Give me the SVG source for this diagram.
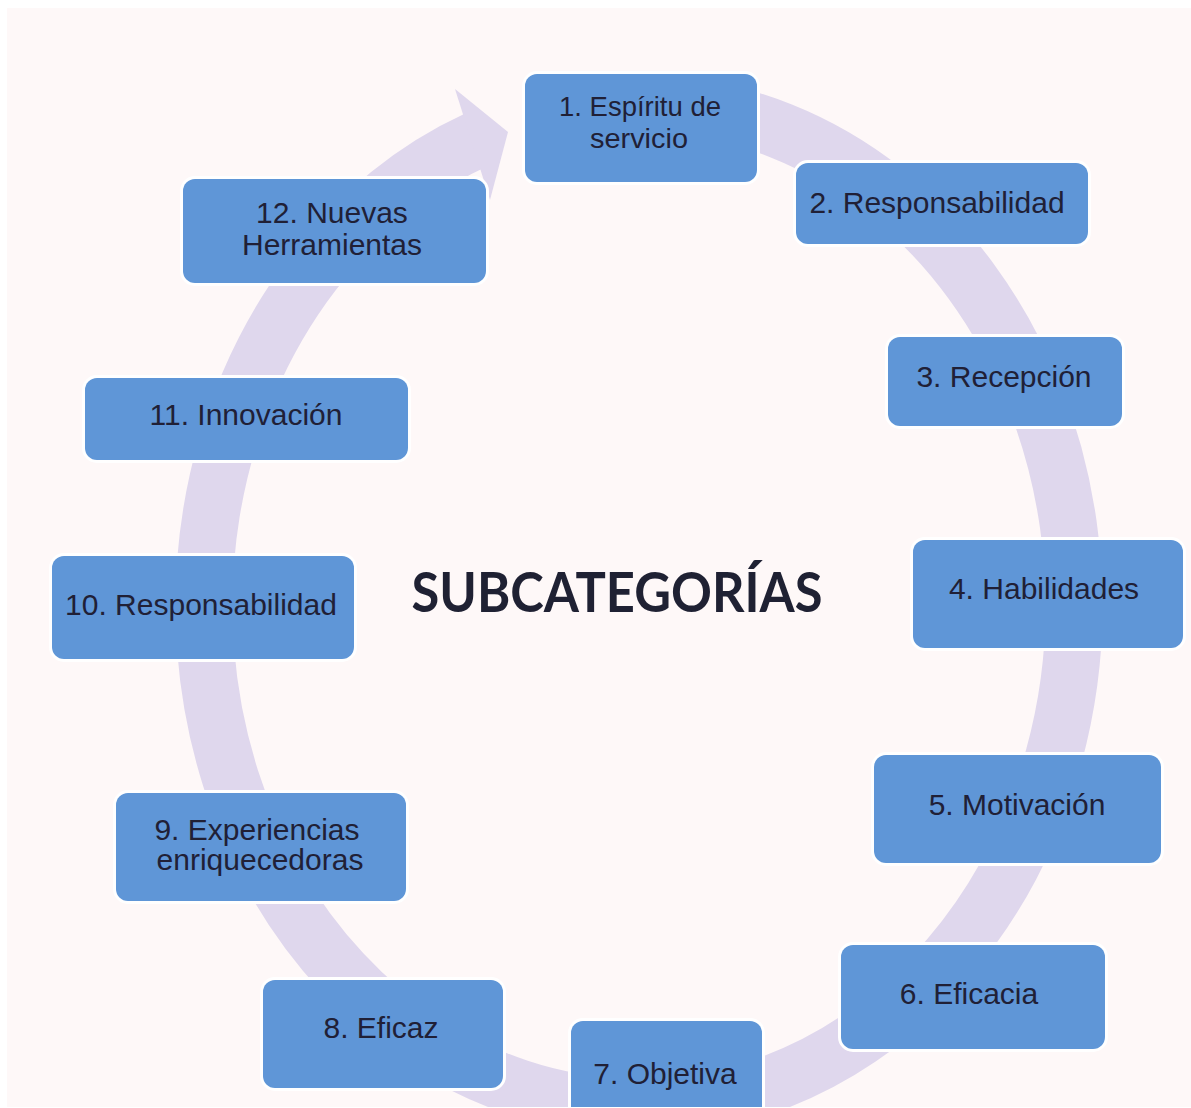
<svg xmlns="http://www.w3.org/2000/svg" width="1191" height="1108" viewBox="0 0 1191 1108">
  <defs>
    <style>
      .box { fill: #5f96d7; stroke: #ffffff; stroke-width: 6; paint-order: stroke; }
      .lbl { font-family: "Liberation Sans", Arial, sans-serif; font-size: 30px; fill: #202036; text-anchor: middle; }
      .lbl.tight { font-size: 28px; }
      .title { font-family: Lato, "Open Sans", sans-serif; font-weight: 700; font-size: 55px; fill: #1f2133; text-anchor: middle; }
      .ring { fill: none; stroke: #dfd7ed; stroke-width: 57; }
    </style>
    <clipPath id="frame">
      <rect x="7" y="8" width="1184" height="1099"/>
    </clipPath>
  </defs>
  <rect x="0" y="0" width="1191" height="1108" fill="#ffffff"/>
  <rect x="7" y="8" width="1184" height="1099" fill="#fef8f8"/>
  <g clip-path="url(#frame)">
    <g id="connectors">
      <path class="ring" d="M 580 108 A 435 502 0 1 1 478 139"/>
      <polygon points="455,89 508,132 490,200" fill="#dfd7ed"/>
    </g>
    <text class="title" x="617" y="612" textLength="411" lengthAdjust="spacingAndGlyphs">SUBCATEGORÍAS</text>
    <g id="node1">
      <rect class="box" x="525" y="74" width="232" height="108" rx="12"/>
      <text class="lbl tight" x="640" y="116" textLength="162" lengthAdjust="spacingAndGlyphs">1. Espíritu de</text>
      <text class="lbl tight" x="639" y="148" textLength="98" lengthAdjust="spacingAndGlyphs">servicio</text>
    </g>
    <g id="node2">
      <rect class="box" x="796" y="163" width="292" height="81" rx="12"/>
      <text class="lbl" x="937" y="213">2. Responsabilidad</text>
    </g>
    <g id="node3">
      <rect class="box" x="888" y="337" width="234" height="89" rx="12"/>
      <text class="lbl" x="1004" y="387">3. Recepción</text>
    </g>
    <g id="node4">
      <rect class="box" x="913" y="540" width="270" height="108" rx="12"/>
      <text class="lbl" x="1044" y="599">4. Habilidades</text>
    </g>
    <g id="node5">
      <rect class="box" x="874" y="755" width="287" height="108" rx="12"/>
      <text class="lbl" x="1017" y="815">5. Motivación</text>
    </g>
    <g id="node6">
      <rect class="box" x="841" y="945" width="264" height="104" rx="12"/>
      <text class="lbl" x="969" y="1004">6. Eficacia</text>
    </g>
    <g id="node7">
      <rect class="box" x="571" y="1021" width="191" height="108" rx="12"/>
      <text class="lbl" x="665" y="1084">7. Objetiva</text>
    </g>
    <g id="node8">
      <rect class="box" x="263" y="980" width="240" height="108" rx="12"/>
      <text class="lbl" x="381" y="1038">8. Eficaz</text>
    </g>
    <g id="node9">
      <rect class="box" x="116" y="793" width="290" height="108" rx="12"/>
      <text class="lbl" x="257" y="840">9. Experiencias</text>
      <text class="lbl" x="260" y="870">enriquecedoras</text>
    </g>
    <g id="node10">
      <rect class="box" x="52" y="556" width="302" height="103" rx="12"/>
      <text class="lbl" x="201" y="615">10. Responsabilidad</text>
    </g>
    <g id="node11">
      <rect class="box" x="85" y="378" width="323" height="82" rx="12"/>
      <text class="lbl" x="246" y="425">11. Innovación</text>
    </g>
    <g id="node12">
      <rect class="box" x="183" y="179" width="303" height="104" rx="12"/>
      <text class="lbl" x="332" y="223">12. Nuevas</text>
      <text class="lbl" x="332" y="255">Herramientas</text>
    </g>
  </g>
</svg>
